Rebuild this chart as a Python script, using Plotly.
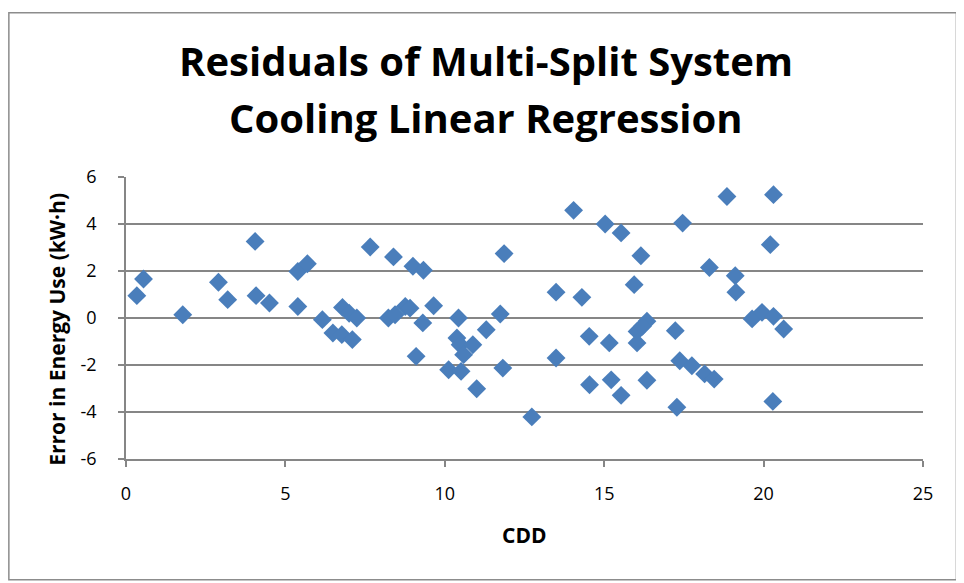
import plotly.graph_objects as go

cdd = [0.34, 0.55, 1.78, 2.90, 3.19, 4.05, 4.08, 4.50, 5.39, 5.69, 5.39, 6.16, 6.49, 6.79, 6.77,
       7.00, 7.24, 7.10, 7.66, 8.23, 8.39, 8.44, 8.76, 8.91, 9.00, 9.33, 9.10, 9.31, 9.65,
       10.12, 10.43, 10.38, 10.48, 10.88, 10.59, 10.51, 11.00, 11.30, 11.74, 11.86, 11.82,
       12.73, 13.49, 13.49, 14.04, 14.30, 14.53, 14.54, 15.03, 15.16, 15.22, 15.53, 15.53,
       16.15, 15.94, 16.03, 16.34, 16.03, 16.34, 16.20, 17.23, 17.28, 17.37, 17.46, 17.75,
       18.15, 18.45, 18.30, 18.85, 19.11, 19.13, 19.64, 19.95, 20.21, 20.31, 20.31, 20.29, 20.63]
error = [0.95, 1.66, 0.14, 1.52, 0.78, 3.26, 0.95, 0.64, 1.98, 2.31, 0.49, -0.07, -0.64, 0.45, -0.71,
         0.20, 0.00, -0.92, 3.02, 0.00, 2.60, 0.14, 0.49, 0.42, 2.20, 2.03, -1.63, -0.21, 0.52,
         -2.20, 0.00, -0.85, -1.14, -1.14, -1.56, -2.27, -3.01, -0.50, 0.17, 2.74, -2.13,
         -4.21, 1.10, -1.70, 4.58, 0.88, -0.78, -2.84, 4.00, -1.06, -2.63, 3.62, -3.29,
         2.65, 1.42, -0.57, -0.14, -1.06, -2.65, -0.35, -0.54, -3.80, -1.82, 4.04, -2.03,
         -2.38, -2.60, 2.15, 5.17, 1.80, 1.10, -0.04, 0.24, 3.12, 5.25, 0.07, -3.55, -0.47]

title_lines = ["Residuals of Multi-Split System", "Cooling Linear Regression"]
x_title = "CDD"
y_title = "Error in Energy Use (kW·h)"
x_ticks = [0, 5, 10, 15, 20, 25]
y_ticks = [-6, -4, -2, 0, 2, 4, 6]
y_ticktext = ["-6", "-4", "-2", "0", "2", "4", "6"]

FONT = "Open Sans"
grid = "#868686"

# page is offset by the 8px body margin; work in figure pixels
OFF = 8
W, H = 964 - OFF, 583 - OFF
L = 125.9 - OFF
R = W - (922.6 - OFF)
T = 177.3 - OFF
B = H - (459.3 - OFF)
pw, ph = W - L - R, H - T - B

def px_x(p):
    return (p - OFF - L) / pw

def px_y(p):
    return (H - B - (p - OFF)) / ph

fig = go.Figure()
fig.add_trace(go.Scatter(
    x=cdd, y=error, mode="markers",
    marker=dict(symbol="diamond", size=14.5, color="#4A7EBB", line=dict(width=0)),
    showlegend=False, cliponaxis=False))

fig.update_layout(
    width=W, height=H,
    margin=dict(l=L, r=R, t=T, b=B, pad=0),
    paper_bgcolor="white", plot_bgcolor="white",
    font=dict(family=FONT, color="black"),
    xaxis=dict(range=[0, 25], tickvals=x_ticks, showgrid=False, zeroline=False,
               showline=True, linecolor=grid, linewidth=1.5,
               ticks="outside", ticklen=6, tickcolor=grid, tickwidth=1.5,
               tickfont=dict(size=18, family=FONT), ticklabelstandoff=12),
    yaxis=dict(range=[-6, 6], tickvals=y_ticks, ticktext=y_ticktext,
               showgrid=True, gridcolor=grid, gridwidth=1.5,
               zeroline=False, showline=True, linecolor=grid, linewidth=1.5,
               ticks="outside", ticklen=6, tickcolor=grid, tickwidth=1.5,
               tickfont=dict(size=18, family=FONT), ticklabelstandoff=18),
)

fig.add_shape(type="rect", xref="paper", yref="paper",
              x0=px_x(OFF + 0.8), x1=px_x(956), y0=px_y(580), y1=px_y(13),
              line=dict(color="#8c8c8c", width=1.5), layer="below")

for line, ypix in zip(title_lines, [61, 118]):
    fig.add_annotation(text="<b>" + line + "</b>", xref="paper", yref="paper",
                       x=px_x(486), y=px_y(ypix), xanchor="center", yanchor="middle",
                       showarrow=False, font=dict(size=40, family=FONT, color="black"))

fig.add_annotation(text="<b>" + x_title + "</b>", xref="paper", yref="paper",
                   x=px_x(524), y=px_y(535), xanchor="center", yanchor="middle",
                   showarrow=False, font=dict(size=21, family=FONT, color="black"))
fig.add_annotation(text="<b>" + y_title + "</b>", xref="paper", yref="paper",
                   x=px_x(57), y=px_y(330), xanchor="center", yanchor="middle", textangle=-90,
                   showarrow=False, font=dict(size=21, family=FONT, color="black"))

fig.write_html("out.html")
